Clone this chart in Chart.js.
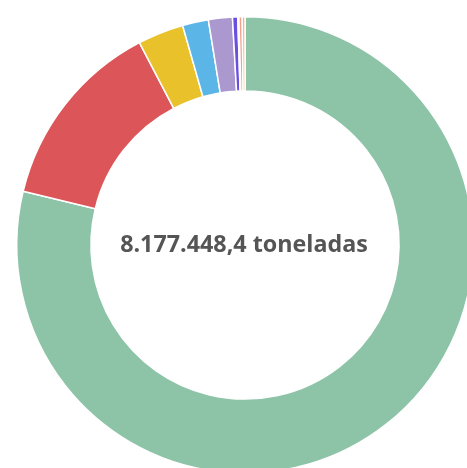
<!DOCTYPE html>
<html>
<head>
<meta charset="utf-8">
<script src="https://cdn.jsdelivr.net/npm/chart.js@4/dist/chart.umd.min.js"></script>
<style>
  html, body { margin: 0; padding: 0; overflow: hidden; background: #fff; }
  #wrap { position: absolute; left: 0; top: 0; width: 490px; height: 490px; }
</style>
</head>
<body>
<div id="wrap"><canvas id="myChart"></canvas></div>
<script>
var categorias = ["Categoria A", "Categoria B", "Categoria C", "Categoria D", "Categoria E",
                  "Categoria F", "Categoria G", "Categoria H", "Categoria I"];
var toneladas = [6443031.4, 1108520, 265767, 149920, 138560, 30350, 6450, 18900, 15950];
var cores = ["#8dc4a8", "#dc5558", "#e8c12b", "#5bb5e6", "#aa98cf",
             "#6b4fdf", "#d9d2f0", "#f3a08c", "#f6b27c"];
var unidade = "toneladas";

// total formatado no padrão brasileiro: 8.177.448,4
function formatar(n) {
    var partes = n.toFixed(1).split(".");
    var inteiro = partes[0].replace(/\B(?=(\d{3})+(?!\d))/g, ".");
    return inteiro + "," + partes[1];
}

var total = toneladas.reduce(function (a, b) { return a + b; }, 0);

var textoCentro = {
    id: "textoCentro",
    afterDraw: function (chart) {
        var arco = chart.getDatasetMeta(0).data[0];
        var ctx = chart.ctx;
        ctx.save();
        ctx.font = "bold 23.3px 'Open Sans'";
        ctx.fillStyle = "#555555";
        ctx.textAlign = "center";
        ctx.textBaseline = "middle";
        ctx.fillText(formatar(total) + " " + unidade, arco.x - 1, arco.y);
        ctx.restore();
    }
};

new Chart("myChart", {
    type: "doughnut",
    data: {
        labels: categorias,
        datasets: [{
            data: toneladas,
            backgroundColor: cores,
            borderColor: "#ffffff",
            borderWidth: 1.5
        }]
    },
    options: {
        responsive: true,
        maintainAspectRatio: false,
        animation: false,
        cutout: "67.5%",
        layout: { padding: 16 },
        plugins: {
            legend: { display: false },
            tooltip: { enabled: false }
        }
    },
    plugins: [textoCentro]
});
</script>
</body>
</html>
